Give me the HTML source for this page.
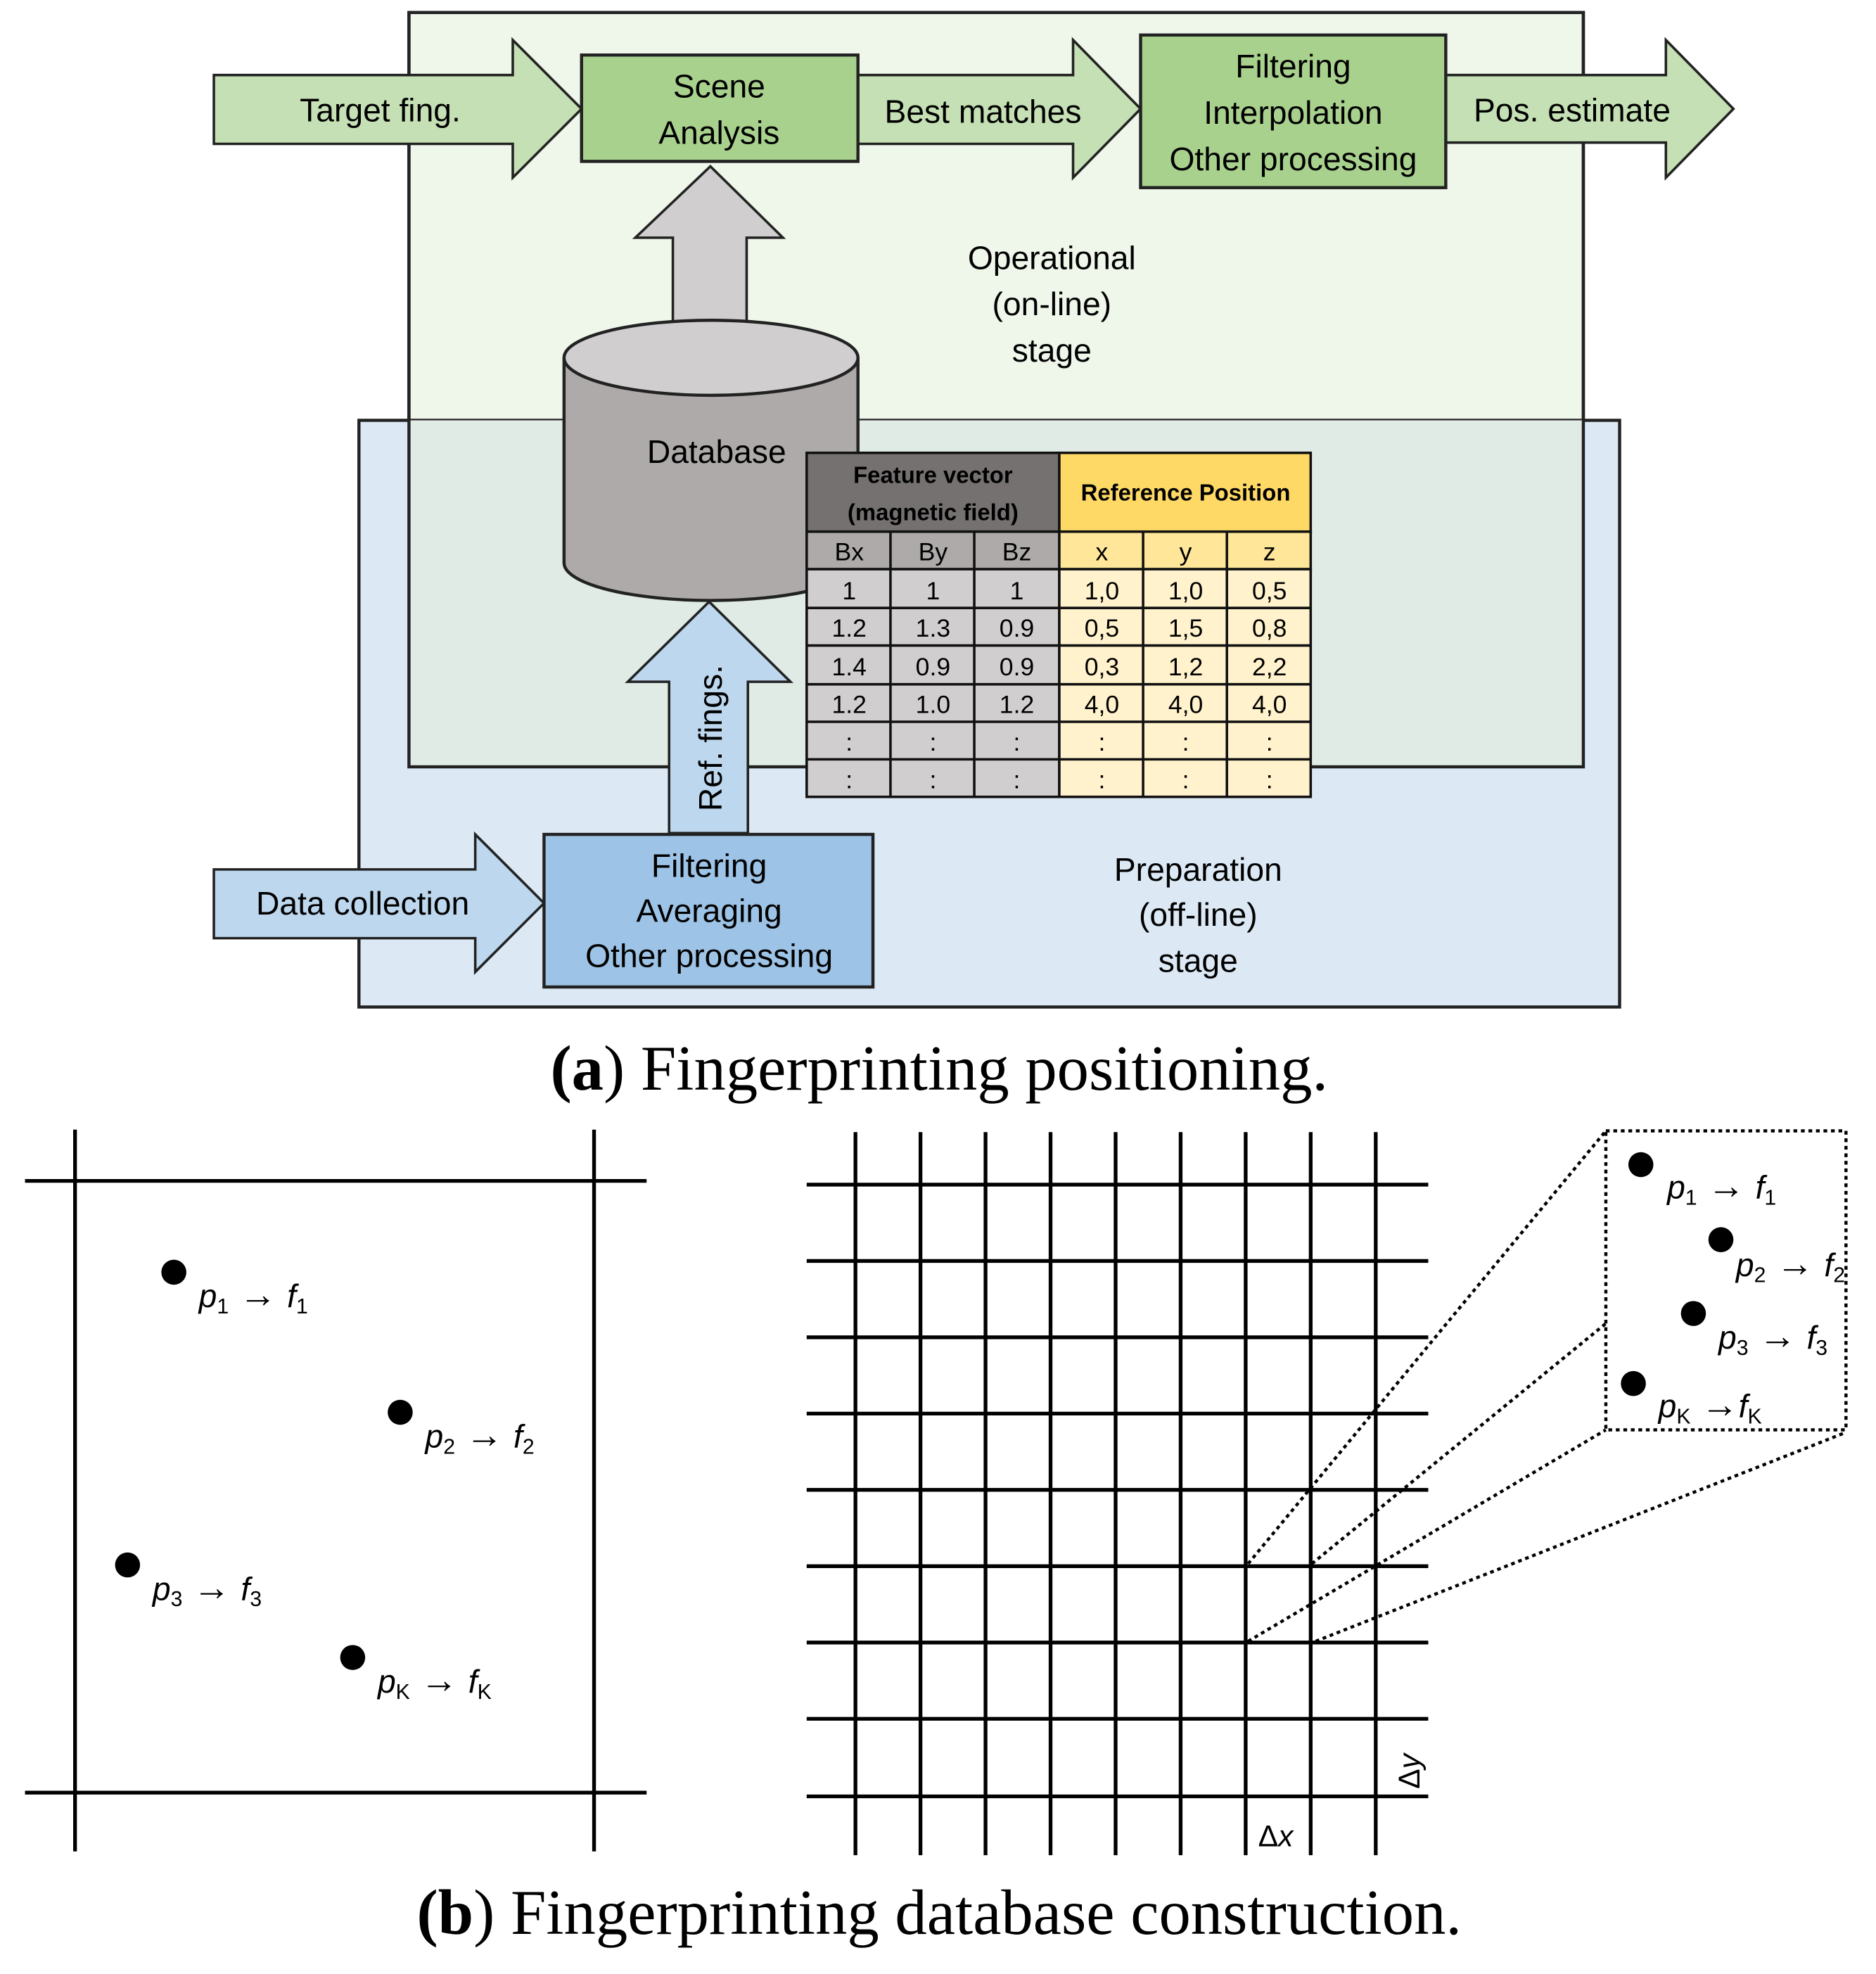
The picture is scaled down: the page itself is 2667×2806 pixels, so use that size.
<!DOCTYPE html>
<html><head><meta charset="utf-8"><style>
html,body{margin:0;padding:0;background:#fff}
svg{display:block}
text{font-family:"Liberation Sans",sans-serif;fill:#000}
.c{text-anchor:middle}
.it{font-family:"Liberation Sans",sans-serif;font-style:italic;font-size:26px}
.sub{font-size:17px;font-style:normal;font-family:"Liberation Sans",sans-serif}
.ar{font-style:normal;font-family:"Liberation Sans",sans-serif;font-size:30px}
</style></head><body>
<svg width="2667" height="2806" viewBox="0 0 1500 1578" preserveAspectRatio="none" xmlns="http://www.w3.org/2000/svg">
<rect x="0" y="0" width="1500" height="1578" fill="#fff"/>
<!-- stages -->
<rect x="327" y="10" width="939" height="603" fill="#eff6ea" stroke="#222" stroke-width="2.5"/>
<rect x="287" y="336" width="1008" height="469" fill="#dce9f5" stroke="#222" stroke-width="2.5"/>
<rect x="327" y="336" width="939" height="277" fill="#e0ebe6"/>
<rect x="327" y="10" width="939" height="603" fill="none" stroke="#222" stroke-width="2.5"/>
<!-- top arrows -->
<g fill="#c5e0b4" stroke="#222" stroke-width="2">
<polygon points="171,60 410,60 410,32 465,87 410,142 410,115 171,115"/>
<polygon points="686,60 858,60 858,32 912,87 858,142 858,115 686,115"/>
<polygon points="1156,60 1332,60 1332,32 1386,87 1332,142 1332,114 1156,114"/>
</g>
<g fill="#a9d18e" stroke="#222" stroke-width="2.5">
<rect x="465" y="44" width="221" height="85"/>
<rect x="912" y="28" width="244" height="122"/>
</g>
<g font-size="26">
<text x="304" y="97" class="c">Target fing.</text>
<text x="575" y="78" class="c">Scene</text>
<text x="575" y="115" class="c">Analysis</text>
<text x="786" y="98" class="c">Best matches</text>
<text x="1034" y="62" class="c">Filtering</text>
<text x="1034" y="99" class="c">Interpolation</text>
<text x="1034" y="136" class="c">Other processing</text>
<text x="1257" y="97" class="c">Pos. estimate</text>
<text x="841" y="215" class="c">Operational</text>
<text x="841" y="252" class="c">(on-line)</text>
<text x="841" y="289" class="c">stage</text>
<text x="958" y="704" class="c">Preparation</text>
<text x="958" y="740" class="c">(off-line)</text>
<text x="958" y="777" class="c">stage</text>
</g>
<!-- gray up arrow -->
<polygon points="538,270 538,190 508,190 568,133 626,190 597,190 597,270" fill="#d0cece" stroke="#222" stroke-width="2"/>
<!-- cylinder -->
<path d="M451,286 L451,450 A117.5,30 0 0 0 686,450 L686,286" fill="#aeaaaa" stroke="#222" stroke-width="2.5"/>
<ellipse cx="568.5" cy="286" rx="117.5" ry="30" fill="#d0cece" stroke="#222" stroke-width="2.5"/>
<text x="573" y="370" font-size="26" class="c">Database</text>
<!-- table -->
<g stroke="#111" stroke-width="2">
<rect x="645" y="362" width="202" height="63" fill="#767171"/>
<rect x="847" y="362" width="201" height="63" fill="#ffd966"/>
<rect x="645" y="425" width="202" height="30" fill="#aeaaaa"/>
<rect x="847" y="425" width="201" height="30" fill="#ffe699"/>
<rect x="645" y="455" width="202" height="182" fill="#d0cece"/>
<rect x="847" y="455" width="201" height="182" fill="#fff2cc"/>
<path d="M712,425V637M779,425V637M914,425V637M981,425V637M645,486H1048M645,516H1048M645,547H1048M645,577H1048M645,607H1048"/>
</g>
<g font-weight="bold" font-size="18.5">
<text x="746" y="386" class="c">Feature vector</text>
<text x="746" y="416" class="c">(magnetic field)</text>
<text x="948" y="400" class="c">Reference Position</text>
</g>
<g font-size="20" text-anchor="middle">
<text x="679" y="448">Bx</text><text x="746" y="448">By</text><text x="813" y="448">Bz</text>
<text x="881" y="448">x</text><text x="948" y="448">y</text><text x="1015" y="448">z</text>
<text x="679" y="479">1</text><text x="746" y="479">1</text><text x="813" y="479">1</text>
<text x="881" y="479">1,0</text><text x="948" y="479">1,0</text><text x="1015" y="479">0,5</text>
<text x="679" y="509">1.2</text><text x="746" y="509">1.3</text><text x="813" y="509">0.9</text>
<text x="881" y="509">0,5</text><text x="948" y="509">1,5</text><text x="1015" y="509">0,8</text>
<text x="679" y="540">1.4</text><text x="746" y="540">0.9</text><text x="813" y="540">0.9</text>
<text x="881" y="540">0,3</text><text x="948" y="540">1,2</text><text x="1015" y="540">2,2</text>
<text x="679" y="570">1.2</text><text x="746" y="570">1.0</text><text x="813" y="570">1.2</text>
<text x="881" y="570">4,0</text><text x="948" y="570">4,0</text><text x="1015" y="570">4,0</text>
<text x="679" y="600">:</text><text x="746" y="600">:</text><text x="813" y="600">:</text>
<text x="881" y="600">:</text><text x="948" y="600">:</text><text x="1015" y="600">:</text>
<text x="679" y="630">:</text><text x="746" y="630">:</text><text x="813" y="630">:</text>
<text x="881" y="630">:</text><text x="948" y="630">:</text><text x="1015" y="630">:</text>
</g>
<!-- ref fings arrow -->
<polygon points="535,666 535,545 502,545 567,481 632,545 598,545 598,666" fill="#bdd7ee" stroke="#222" stroke-width="2"/>
<text transform="translate(577,590) rotate(-90)" font-size="26" class="c">Ref. fings.</text>
<!-- data collection -->
<polygon points="171,695 380,695 380,667 435,722 380,777 380,750 171,750" fill="#bdd7ee" stroke="#222" stroke-width="2"/>
<rect x="435" y="667" width="263" height="122" fill="#9dc3e6" stroke="#222" stroke-width="2.5"/>
<g font-size="26">
<text x="290" y="731" class="c">Data collection</text>
<text x="567" y="701" class="c">Filtering</text>
<text x="567" y="737" class="c">Averaging</text>
<text x="567" y="773" class="c">Other processing</text>
</g>
<text x="751" y="871" font-size="51" class="c" style="font-family:'Liberation Serif',serif"><tspan font-weight="bold">(a</tspan>) Fingerprinting positioning.</text>
<!-- part b left -->
<g stroke="#000" stroke-width="3">
<path d="M20,944H517M20,1433H517M60,903V1480M475,903V1480"/>
</g>
<g fill="#000">
<circle cx="139" cy="1017" r="10"/><circle cx="320" cy="1129" r="10"/><circle cx="102" cy="1251" r="10"/><circle cx="282" cy="1325" r="10"/>
</g>
<text x="159" y="1045" class="it">p<tspan class="sub" dy="5">1</tspan><tspan class="ar" dy="-5"> → </tspan>f<tspan class="sub" dy="5">1</tspan></text>
<text x="340" y="1157" class="it">p<tspan class="sub" dy="5">2</tspan><tspan class="ar" dy="-5"> → </tspan>f<tspan class="sub" dy="5">2</tspan></text>
<text x="122" y="1279" class="it">p<tspan class="sub" dy="5">3</tspan><tspan class="ar" dy="-5"> → </tspan>f<tspan class="sub" dy="5">3</tspan></text>
<text x="302" y="1353" class="it">p<tspan class="sub" dy="5">K</tspan><tspan class="ar" dy="-5"> → </tspan>f<tspan class="sub" dy="5">K</tspan></text>
<!-- grid -->
<g stroke="#000" stroke-width="3">
<path d="M684,905V1483M736,905V1483M788,905V1483M840,905V1483M892,905V1483M944,905V1483M996,905V1483M1048,905V1483M1100,905V1483"/>
<path d="M645,947H1142M645,1008H1142M645,1069H1142M645,1130H1142M645,1191H1142M645,1252H1142M645,1313H1142M645,1374H1142M645,1436H1142"/>
</g>
<g stroke="#000" stroke-width="2.5" stroke-dasharray="3,3" fill="none">
<rect x="1284" y="904" width="192" height="239"/>
<path d="M998,1250L1284,904M1049,1250L1284,1058M998,1312L1284,1143M1052,1312L1476,1145"/>
</g>
<g fill="#000">
<circle cx="1312" cy="931" r="10"/><circle cx="1376" cy="991" r="10"/><circle cx="1354" cy="1050" r="10"/><circle cx="1306" cy="1106" r="10"/>
</g>
<text x="1333" y="958" class="it">p<tspan class="sub" dy="5">1</tspan><tspan class="ar" dy="-5"> → </tspan>f<tspan class="sub" dy="5">1</tspan></text>
<text x="1388" y="1020" class="it">p<tspan class="sub" dy="5">2</tspan><tspan class="ar" dy="-5"> → </tspan>f<tspan class="sub" dy="5">2</tspan></text>
<text x="1374" y="1078" class="it">p<tspan class="sub" dy="5">3</tspan><tspan class="ar" dy="-5"> → </tspan>f<tspan class="sub" dy="5">3</tspan></text>
<text x="1326" y="1133" class="it">p<tspan class="sub" dy="5">K</tspan><tspan class="ar" dy="-5"> →</tspan>f<tspan class="sub" dy="5">K</tspan></text>
<text x="1006" y="1476" font-size="24">Δ<tspan font-style="italic">x</tspan></text>
<text transform="translate(1135,1430) rotate(-90)" font-size="24">Δ<tspan font-style="italic">y</tspan></text>
<text x="751" y="1546" font-size="51" class="c" style="font-family:'Liberation Serif',serif"><tspan font-weight="bold">(b</tspan>) Fingerprinting database construction.</text>
</svg>
</body></html>
